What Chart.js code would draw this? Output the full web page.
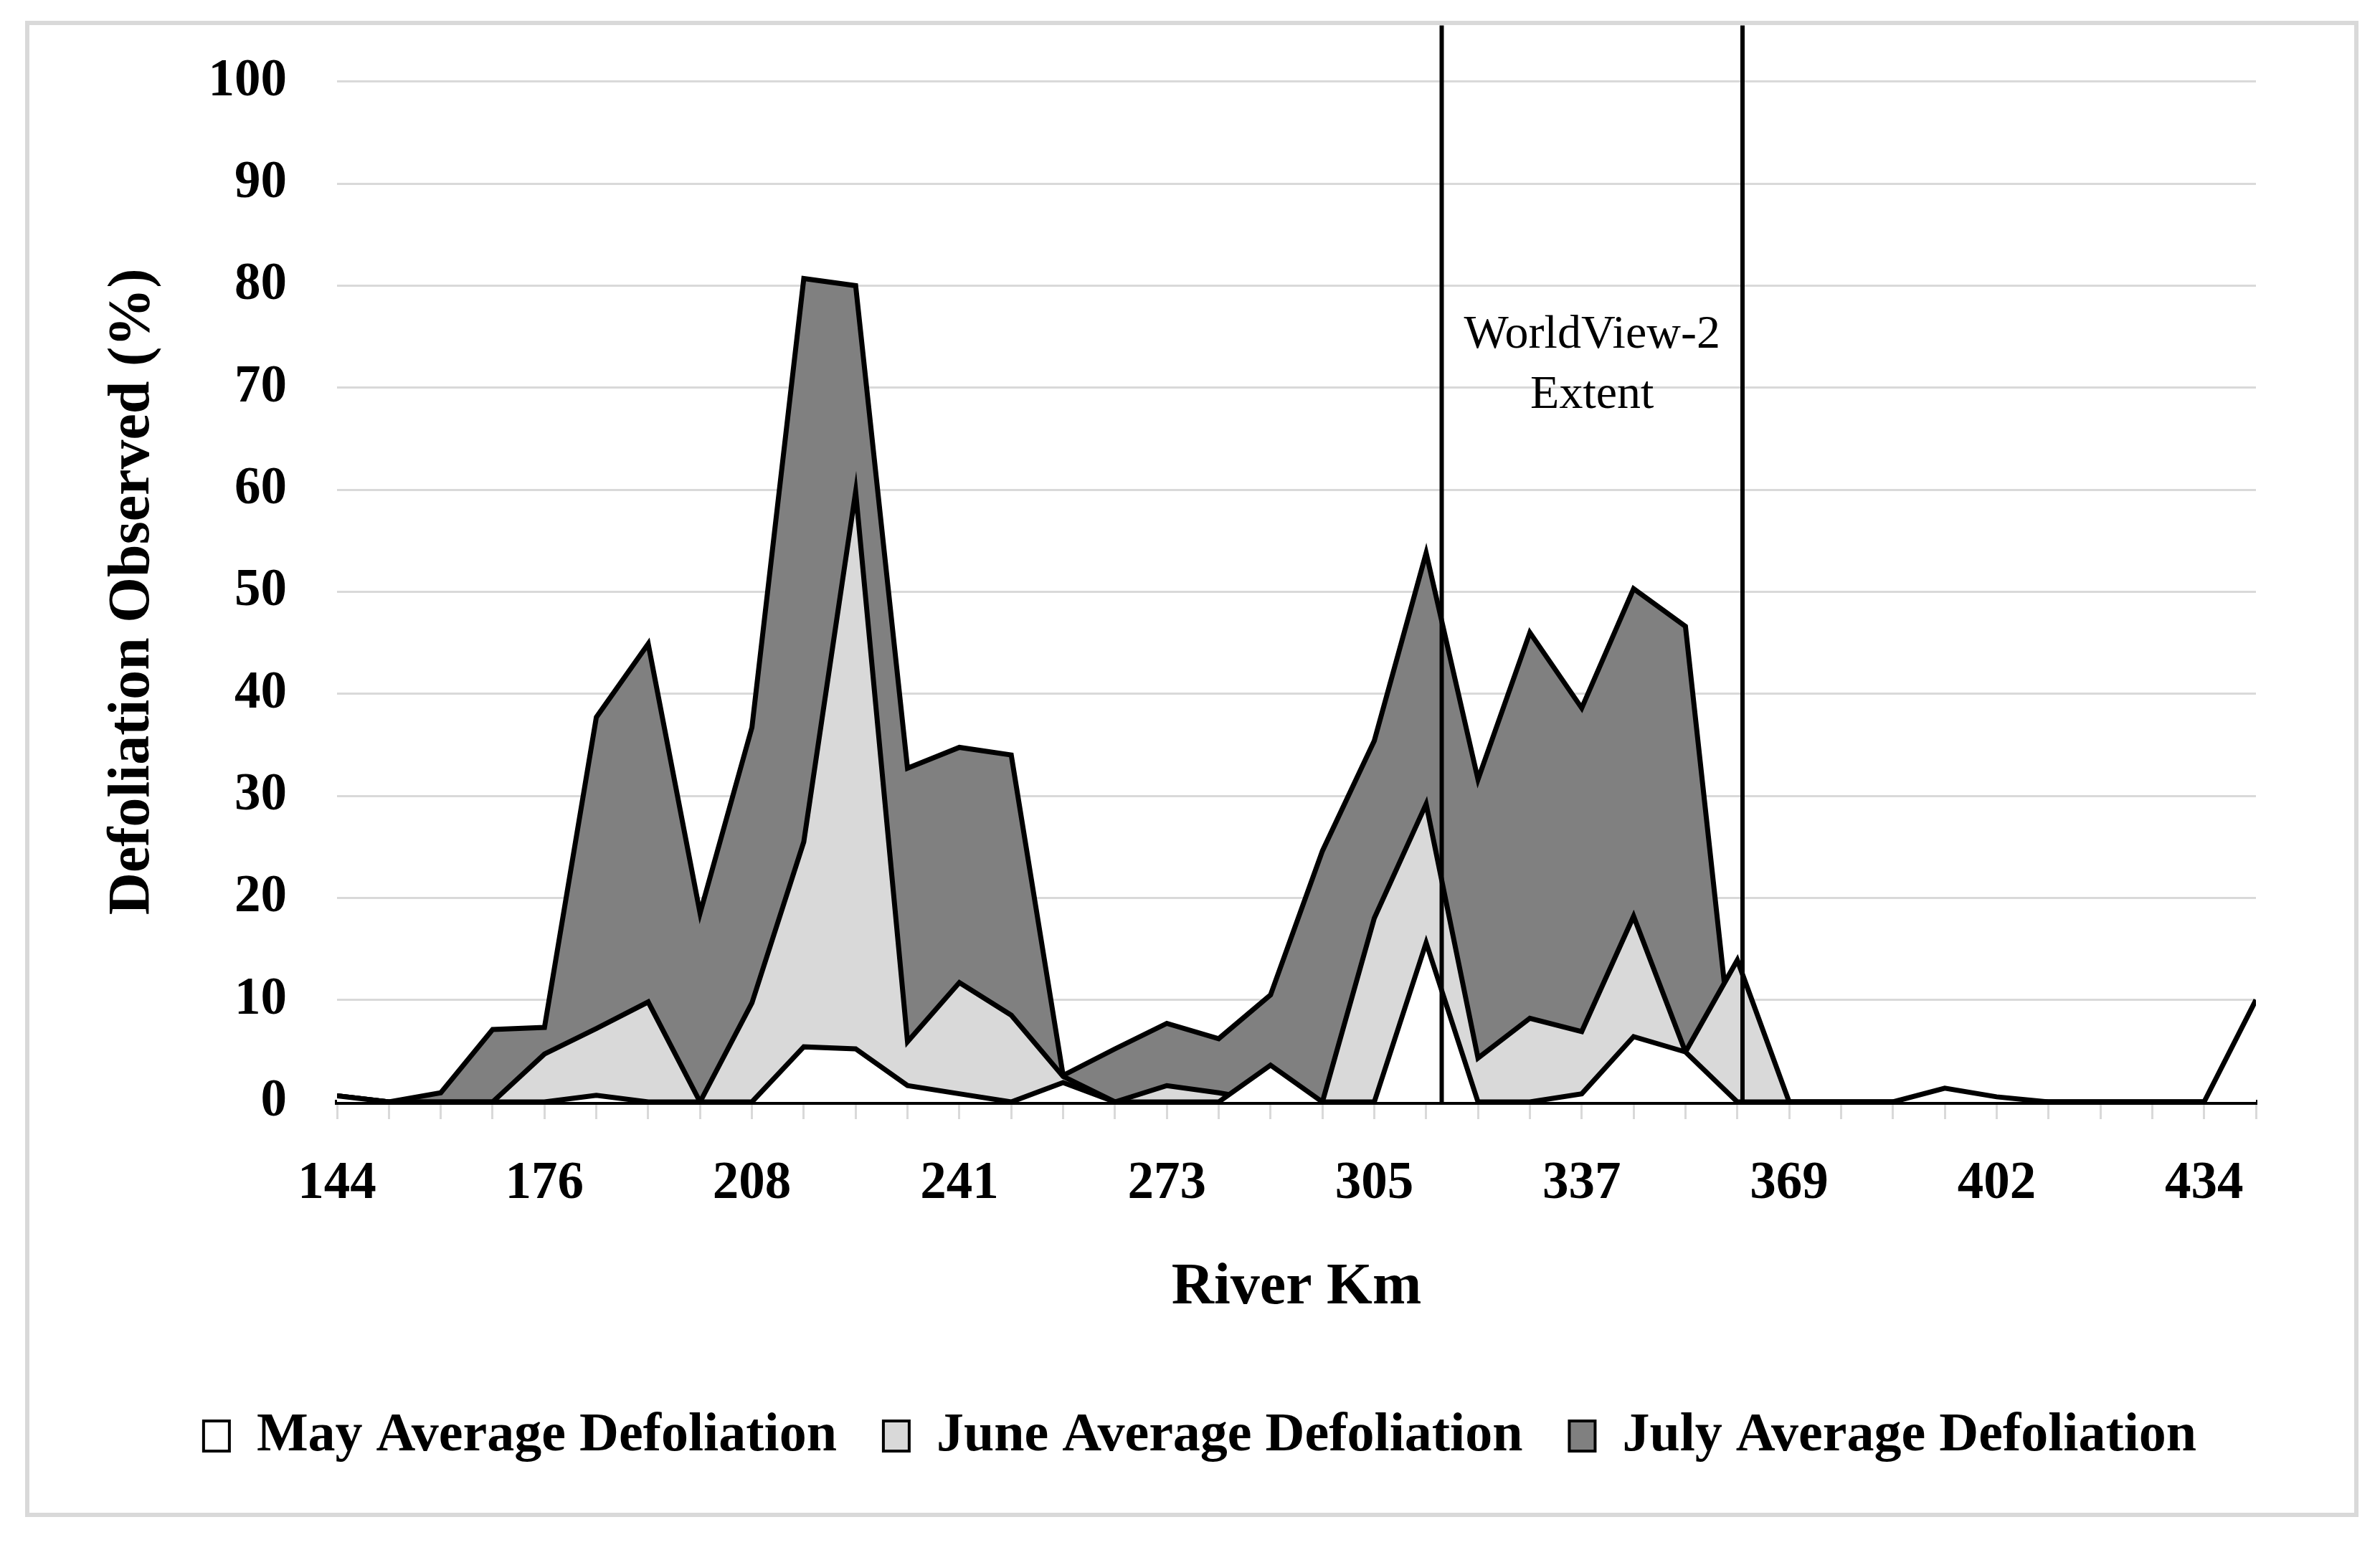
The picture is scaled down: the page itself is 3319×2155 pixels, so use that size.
<!DOCTYPE html>
<html>
<head>
<meta charset="utf-8">
<script src="https://cdn.jsdelivr.net/npm/chart.js@4"></script>
<style>
  html, body { margin: 0; padding: 0; background: #fff; }
  #wrap { position: relative; width: 3319px; height: 2155px; }
  #frame {
    position: absolute; left: 35px; top: 29px;
    width: 3242px; height: 2075px;
    border: 6px solid #d9d9d9;
  }
  #wrap canvas { position: absolute; left: 0; top: 0; }
</style>
</head>
<body>
<div id="wrap">
  <div id="frame"></div>
  <canvas id="chart" width="3319" height="2155"></canvas>
</div>
<script>
// river km at each sampling point (only every 4th one is labelled)
const kmLabels = [
  '144', '152', '160', '168', '176', '184', '192', '200', '208', '216',
  '224', '233', '241', '249', '257', '265', '273', '281', '289', '297',
  '305', '313', '321', '329', '337', '345', '353', '361', '369', '378',
  '386', '394', '402', '410', '418', '426', '434', '442'
];

const mayValues = [
  0.6, 0, 0, 0, 0, 0.65, 0, 0, 0, 5.4,
  5.2, 1.6, 0.8, 0, 1.9, 0, 0, 0, 3.6, 0,
  0, 15.6, 0, 0, 0.8, 6.4, 4.9, 0, 0, 0,
  0, 1.35, 0.5, 0, 0, 0, 0, 10
];

const juneValues = [
  0.6, 0, 0, 0, 4.7, 7.2, 9.8, 0, 9.7, 25.5,
  59.8, 5.9, 11.7, 8.5, 2.5, 0, 1.6, 0.9, 0, 0,
  18.0, 29.2, 4.3, 8.2, 6.9, 18.2, 4.9, 13.9, 0, 0,
  0, 0, 0, 0, 0, 0, 0, 0
];

const julyValues = [
  0.6, 0, 0.9, 7.1, 7.3, 37.7, 44.9, 18.5, 36.7, 80.7,
  80.0, 32.7, 34.75, 34.0, 2.6, 5.2, 7.7, 6.2, 10.5, 24.6,
  35.4, 53.8, 31.6, 46.0, 38.6, 50.3, 46.6, 0, 0, 0,
  0, 0, 0, 0, 0, 0, 0, 0
];

const seriesNames = ['May Average Defoliation', 'June Average Defoliation', 'July Average Defoliation'];
const seriesColors = ['#ffffff', '#d9d9d9', '#808080'];

// WorldView-2 extent, as positions on the sample index axis
const wv2Lines = [21.3, 27.1];
const wv2Top = 105.5;
const wv2Label = ['WorldView-2', 'Extent'];

const serif = 'Liberation Serif';
Chart.defaults.font.family = serif;
Chart.defaults.color = '#000';

const toPoints = values => values.map((v, i) => ({ x: i, y: v }));

const lineSets = wv2Lines.map(x => ({
  label: 'wv2',
  data: [{ x, y: 0 }, { x, y: wv2Top }],
  borderColor: '#000',
  borderWidth: 6,
  pointRadius: 0,
  fill: false,
  clip: false
}));

const areaSets = [mayValues, juneValues, julyValues].map((values, k) => ({
  label: seriesNames[k],
  data: toPoints(values),
  backgroundColor: seriesColors[k],
  borderColor: '#000',
  borderWidth: 7,
  borderJoinStyle: 'miter',
  pointRadius: 0,
  tension: 0,
  fill: 'origin'
}));

const extentText = {
  id: 'extentText',
  afterDatasetsDraw(chart) {
    const { ctx, scales } = chart;
    const x = scales.x.getPixelForValue((wv2Lines[0] + wv2Lines[1]) / 2);
    ctx.save();
    ctx.font = `66px "${serif}"`;
    ctx.fillStyle = '#000';
    ctx.textAlign = 'center';
    ctx.textBaseline = 'alphabetic';
    ctx.fillText(wv2Label[0], x, scales.y.getPixelForValue(73.9));
    ctx.fillText(wv2Label[1], x, scales.y.getPixelForValue(68.0));
    ctx.restore();
  }
};

new Chart(document.getElementById('chart'), {
  type: 'line',
  data: { datasets: [...lineSets, ...areaSets] },
  plugins: [extentText],
  options: {
    responsive: false,
    animation: false,
    devicePixelRatio: 1,
    layout: { padding: { left: 201, right: 173, top: 112, bottom: 104 } },
    plugins: {
      tooltip: { enabled: false },
      legend: {
        position: 'bottom',
        labels: {
          font: { size: 76, weight: 'bold', family: serif },
          color: '#000',
          boxWidth: 36,
          boxHeight: 42,
          padding: 65,
          generateLabels(chart) {
            const items = Chart.defaults.plugins.legend.labels.generateLabels(chart);
            return items
              .filter(item => item.text !== 'wv2')
              .map(item => ({ ...item, lineWidth: 4 }));
          }
        }
      }
    },
    scales: {
      x: {
        type: 'linear',
        min: 0,
        max: kmLabels.length - 1,
        z: 1,
        afterFit(scale) { scale.height = 363; },
        border: { color: '#000', width: 7 },
        grid: {
          drawOnChartArea: false,
          drawTicks: true,
          tickLength: 24,
          color: '#d9d9d9',
          lineWidth: 3
        },
        ticks: {
          stepSize: 1,
          autoSkip: false,
          maxRotation: 0,
          padding: 47,
          font: { size: 73, weight: 'bold', family: serif },
          color: '#000',
          callback: v => (v % 4 === 0 ? kmLabels[v] : '')
        },
        title: {
          display: true,
          text: 'River Km',
          font: { size: 82, weight: 'bold', family: serif },
          color: '#000',
          padding: { top: 0, bottom: 54 }
        }
      },
      y: {
        min: 0,
        max: 100,
        afterFit(scale) { scale.width = 269; },
        border: { display: false },
        grid: {
          color: '#d9d9d9',
          lineWidth: 3,
          drawTicks: false
        },
        ticks: {
          stepSize: 10,
          padding: 70,
          font: { size: 73, weight: 'bold', family: serif },
          color: '#000'
        },
        title: {
          display: true,
          text: 'Defoliation Observed (%)',
          font: { size: 82, weight: 'bold', family: serif },
          color: '#000',
          padding: { top: -64, bottom: 0 }
        }
      }
    }
  }
});
</script>
</body>
</html>
